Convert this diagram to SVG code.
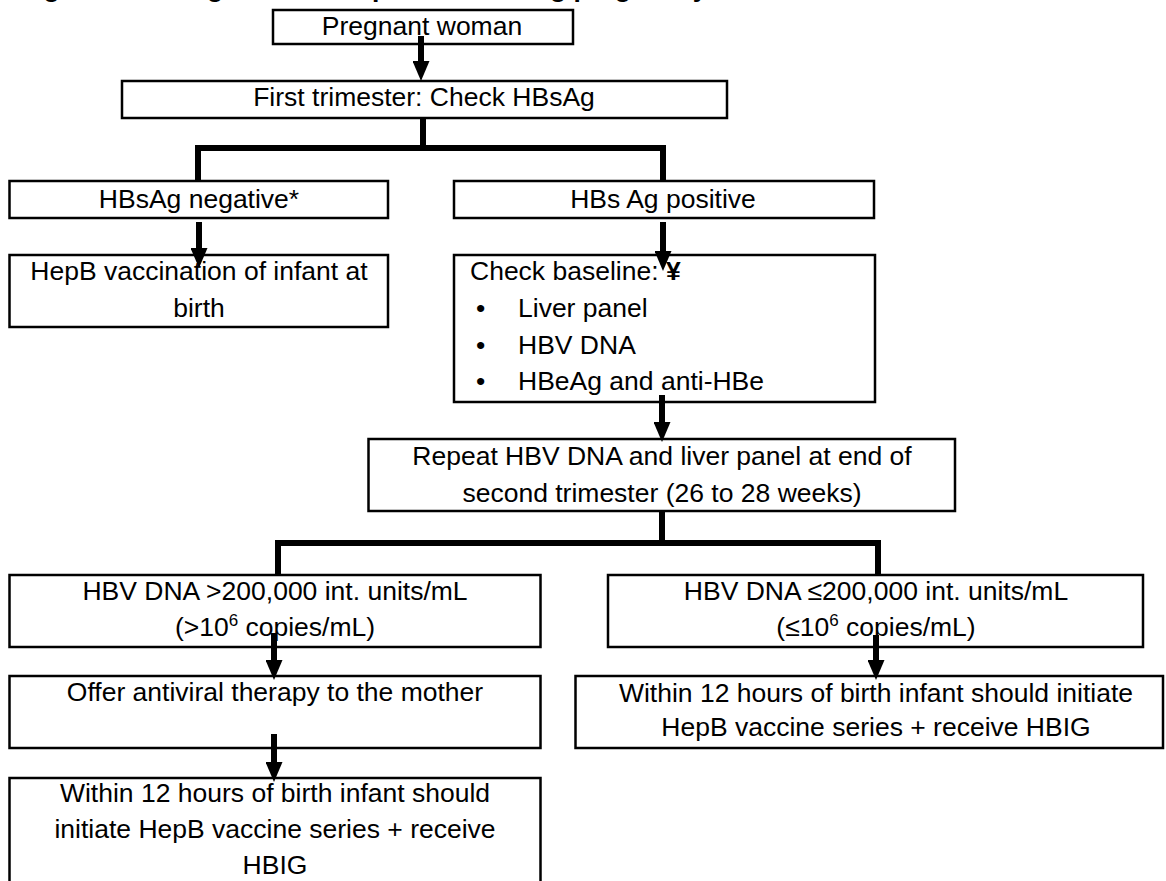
<svg xmlns="http://www.w3.org/2000/svg" width="1166" height="881" viewBox="0 0 1166 881">
  <style>
    .box { fill: #fff; stroke: #000; stroke-width: 2.5; }
    .t { font-family: "Liberation Sans", Arial, sans-serif; font-size: 26.5px; fill: #000; }
    .c { text-anchor: middle; }
    .title { font-family: "Liberation Sans", Arial, sans-serif; font-size: 26.5px; font-weight: bold; fill: #000; }
    .bar { fill: none; stroke: #000; stroke-width: 6; stroke-linejoin: miter; stroke-linecap: butt; }
    .arrow { stroke: #000; stroke-width: 6; marker-end: url(#head); }
  </style>
  <defs>
    <marker id="head" markerUnits="userSpaceOnUse" markerWidth="20" markerHeight="17" refX="0" refY="8.5" orient="auto">
      <path d="M0,0 L20,8.5 L0,17 Z" fill="#000"/>
    </marker>
  </defs>

  <rect width="1166" height="881" fill="#fff"/>

  <!-- heading, mostly above the top edge -->
  <text class="title" x="20" y="-3">Figure 1: Management of hepatitis B during pregnancy</text>

  <g id="pregnant">
    <rect class="box" x="273" y="10" width="300" height="34"/>
    <text class="t c" x="422" y="35">Pregnant woman</text>
  </g>

  <g id="first-trimester">
    <rect class="box" x="122" y="81" width="605" height="37"/>
    <text class="t c" x="424" y="106">First trimester: Check HBsAg</text>
  </g>

  <g id="hbsag-negative">
    <rect class="box" x="9.5" y="181" width="378.5" height="37"/>
    <text class="t c" x="199" y="208">HBsAg negative*</text>
  </g>

  <g id="hbsag-positive">
    <rect class="box" x="454" y="181" width="420" height="37"/>
    <text class="t c" x="663" y="208">HBs Ag positive</text>
  </g>

  <g id="vaccinate-negative">
    <rect class="box" x="9.5" y="255" width="378.5" height="72"/>
    <text class="t c" x="199" y="280">HepB vaccination of infant at</text>
    <text class="t c" x="199" y="317">birth</text>
  </g>

  <g id="baseline-checks">
    <rect class="box" x="454" y="255" width="421" height="147"/>
    <text class="t" x="470" y="280">Check baseline: <tspan font-weight="bold">¥</tspan></text>
    <text class="t" x="476" y="317">•</text>
    <text class="t" x="518" y="317">Liver panel</text>
    <text class="t" x="476" y="354">•</text>
    <text class="t" x="518" y="354">HBV DNA</text>
    <text class="t" x="476" y="390">•</text>
    <text class="t" x="518" y="390">HBeAg and anti-HBe</text>
  </g>

  <g id="repeat-dna">
    <rect class="box" x="368.5" y="439" width="586.5" height="72"/>
    <text class="t c" x="662" y="465">Repeat HBV DNA and liver panel at end of</text>
    <text class="t c" x="662" y="502">second trimester (26 to 28 weeks)</text>
  </g>

  <g id="dna-high">
    <rect class="box" x="9.5" y="575" width="531" height="72"/>
    <text class="t c" x="275" y="600">HBV DNA &gt;200,000 int. units/mL</text>
    <text class="t c" x="275" y="636">(&gt;10<tspan font-size="17" dy="-10">6</tspan><tspan dy="10"> copies/mL)</tspan></text>
  </g>

  <g id="dna-low">
    <rect class="box" x="608" y="575" width="535" height="72"/>
    <text class="t c" x="876" y="600">HBV DNA ≤200,000 int. units/mL</text>
    <text class="t c" x="876" y="636">(≤10<tspan font-size="17" dy="-10">6</tspan><tspan dy="10"> copies/mL)</tspan></text>
  </g>

  <g id="antiviral">
    <rect class="box" x="9.5" y="676" width="531" height="72"/>
    <text class="t c" x="275" y="701">Offer antiviral therapy to the mother</text>
  </g>

  <g id="infant-high">
    <rect class="box" x="9.5" y="778" width="531" height="120"/>
    <text class="t c" x="275" y="802">Within 12 hours of birth infant should</text>
    <text class="t c" x="275" y="838">initiate HepB vaccine series + receive</text>
    <text class="t c" x="275" y="874">HBIG</text>
  </g>

  <g id="infant-low">
    <rect class="box" x="575.5" y="676" width="587.5" height="72"/>
    <text class="t c" x="876" y="702">Within 12 hours of birth infant should initiate</text>
    <text class="t c" x="876" y="736">HepB vaccine series + receive HBIG</text>
  </g>

  <g id="connectors">
    <path class="bar" d="M198,181 V148 H663 V181 M423,118 V148"/>
    <path class="bar" d="M278,575 V543 H878 V575 M662,511 V543"/>
    <line class="arrow" x1="421" y1="36" x2="421" y2="61"/>
    <line class="arrow" x1="199" y1="222" x2="199" y2="248"/>
    <line class="arrow" x1="663" y1="222" x2="663" y2="251"/>
    <line class="arrow" x1="662" y1="395" x2="662" y2="422"/>
    <line class="arrow" x1="274" y1="633" x2="274" y2="660"/>
    <line class="arrow" x1="876" y1="635" x2="876" y2="660"/>
    <line class="arrow" x1="274" y1="734" x2="274" y2="762"/>
  </g>
</svg>
